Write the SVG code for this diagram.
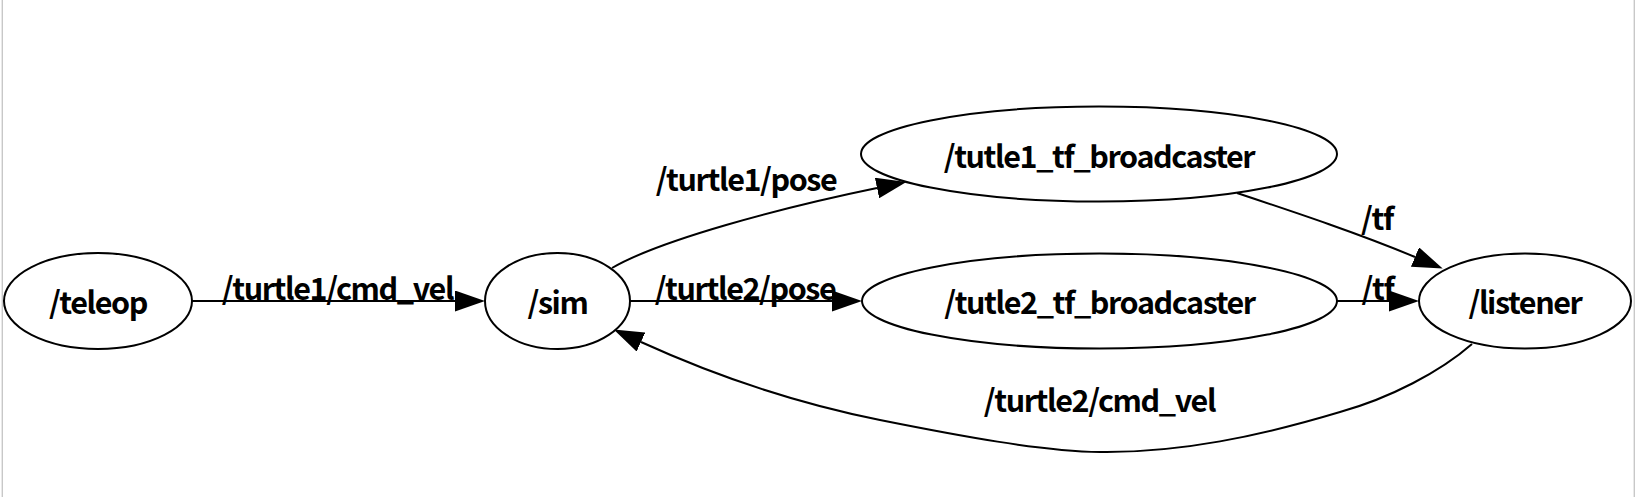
<svg xmlns="http://www.w3.org/2000/svg" width="1639" height="497" viewBox="0 0 1639 497">
<style>
.node ellipse{fill:#fff;stroke:#000;stroke-width:2}
.lbl{font-family:"Noto Sans CJK SC","Noto Sans",sans-serif;font-weight:bold;font-size:30.5px;letter-spacing:-1.4px;fill:#000;text-anchor:middle}
.edge{fill:none;stroke:#000;stroke-width:2}
</style>
<defs>
<marker id="ah" markerUnits="userSpaceOnUse" viewBox="0 0 30 21" refX="0" refY="10.5" markerWidth="30" markerHeight="21" orient="auto">
<path d="M0,0 L30,10.5 L0,21 z" fill="#000"/>
</marker>
</defs>
<rect x="0" y="0" width="1639" height="497" fill="#fff"/>
<line x1="2.3" y1="0" x2="2.3" y2="497" stroke="#c8c8c8" stroke-width="1.4"/>
<line x1="1634.3" y1="0" x2="1634.3" y2="497" stroke="#c8c8c8" stroke-width="1.4"/>
<g id="connectors">
<path class="edge" d="M192,301 L455,301" marker-end="url(#ah)"/>
<path class="edge" d="M630,301 L832,301" marker-end="url(#ah)"/>
<path class="edge" d="M1337,301 L1389,301" marker-end="url(#ah)"/>
<path class="edge" d="M612,268 C660,240 780,208 877,188" marker-end="url(#ah)"/>
<path class="edge" d="M1237,193 C1300,214 1360,234 1415,257" marker-end="url(#ah)"/>
<path class="edge" d="M1472,344 C1440,372 1390,398 1340,412 C1260,436 1180,453 1100,452 C1040,451 960,436 880,420 C800,404 720,378 641,342" marker-end="url(#ah)"/>
<text class="lbl" x="337.5" y="300">/turtle1/cmd_vel</text>
<text class="lbl" x="746" y="191">/turtle1/pose</text>
<text class="lbl" x="745" y="300">/turtle2/pose</text>
<text class="lbl" x="1377" y="230">/tf</text>
<text class="lbl" x="1377.5" y="300">/tf</text>
<text class="lbl" x="1099.5" y="412">/turtle2/cmd_vel</text>
</g>
<g id="teleop" class="node"><ellipse cx="98" cy="301" rx="94" ry="48"/><text class="lbl" x="98" y="314">/teleop</text></g>
<g id="sim" class="node"><ellipse cx="557.5" cy="301" rx="72.5" ry="48"/><text class="lbl" x="557.5" y="314">/sim</text></g>
<g id="tutle1_tf_broadcaster" class="node"><ellipse cx="1099" cy="154" rx="238" ry="47.5"/><text class="lbl" x="1099" y="168">/tutle1_tf_broadcaster</text></g>
<g id="tutle2_tf_broadcaster" class="node"><ellipse cx="1099.5" cy="301" rx="237.5" ry="47.5"/><text class="lbl" x="1099.5" y="314">/tutle2_tf_broadcaster</text></g>
<g id="listener" class="node"><ellipse cx="1525" cy="301" rx="106" ry="47.5"/><text class="lbl" x="1525" y="314">/listener</text></g>
</svg>
